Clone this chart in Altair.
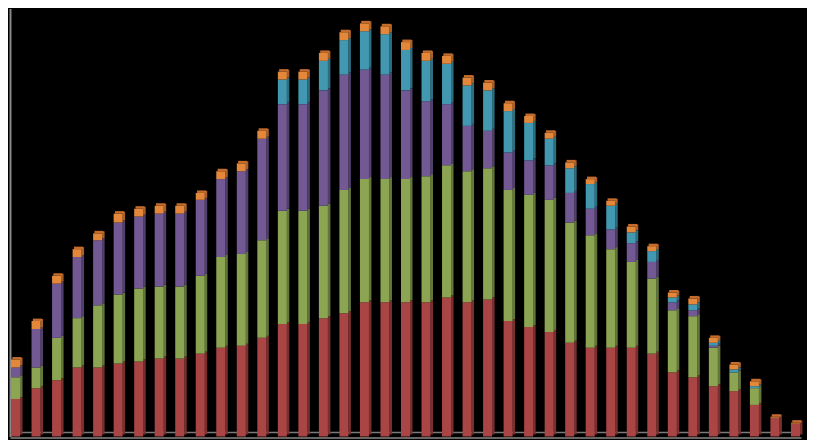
import altair as alt
import pandas as pd

categories = list(range(1, 40))
series_names = ["S1", "S2", "S3", "S4", "S5"]
red = [38, 49, 57, 70, 70, 74, 76, 79, 79, 84, 90, 92, 100, 114, 114, 120, 125, 136, 136, 136,
       136, 141, 136, 139, 117, 111, 106, 95, 90, 90, 90, 84, 65, 60, 51, 46, 32, 19, 13]
green = [22, 21, 43, 50, 63, 70, 74, 73, 73, 79, 92, 93, 99, 115, 115, 114, 125, 125, 125, 125,
         128, 134, 133, 133, 133, 134, 134, 122, 114, 100, 87, 76, 63, 62, 39, 19, 17, 0, 0]
purple = [10, 39, 55, 62, 66, 73, 73, 74, 74, 77, 79, 84, 103, 108, 108, 117, 117, 111, 106, 90,
          76, 62, 46, 38, 38, 35, 35, 30, 27, 20, 19, 17, 8, 6, 2, 0, 0, 0, 0]
teal = [0, 0, 0, 0, 0, 0, 0, 0, 0, 0, 0, 0, 0, 25, 25, 30, 35, 39, 41, 41,
        41, 41, 41, 41, 42, 38, 27, 25, 25, 24, 11, 11, 5, 6, 3, 3, 2, 0, 0]
orange = [8, 8, 8, 8, 7, 9, 8, 8, 8, 7, 8, 8, 8, 8, 8, 8, 8, 8, 8, 8,
          8, 8, 8, 8, 8, 7, 6, 6, 5, 5, 6, 5, 5, 6, 5, 5, 5, 1, 1]

front_colors = ["#AA4545", "#8CA552", "#735994", "#4298B0", "#E3873A"]
side_colors = ["#7A2F2F", "#63773A", "#51406B", "#2D6E80", "#A8602A"]

rows = []
for i, c in enumerate(categories):
    base = 0
    for name, vals in zip(series_names, [red, green, purple, teal, orange]):
        v = vals[i]
        rows.append({"cat": c, "series": name, "y0": base, "y1": base + v})
        base += v
df = pd.DataFrame(rows)
tops = pd.DataFrame({"cat": categories,
                     "total": [r + g + p + t + o for r, g, p, t, o in zip(red, green, purple, teal, orange)]})
floor = pd.DataFrame({"v": [0]})

xscale = alt.Scale(paddingInner=0.56, paddingOuter=0.05)
yscale = alt.Scale(domain=[0, 434], nice=False)

x_enc = alt.X("cat:O", scale=xscale,
              axis=alt.Axis(labels=False, ticks=False, title=None, domainColor="#8a8a8a",
                            domainWidth=1.5, offset=1))
y_enc = alt.Y("y1:Q", scale=yscale,
              axis=alt.Axis(labels=False, ticks=False, grid=False, title=None,
                            domainColor="#8a8a8a", domainWidth=2))

back_floor = alt.Chart(floor).mark_rule(color="#7a7a7a", strokeWidth=1.5, yOffset=-4).encode(
    y=alt.Y("v:Q", scale=yscale)
)

side = alt.Chart(df).mark_bar(width=2.5, xOffset=5.75, yOffset=-2, y2Offset=-2).encode(
    x=x_enc,
    y=y_enc,
    y2="y0:Q",
    color=alt.Color("series:N", scale=alt.Scale(domain=series_names, range=side_colors), legend=None),
)

front = alt.Chart(df).mark_bar().encode(
    x=x_enc,
    y=y_enc,
    y2="y0:Q",
    color=alt.Color("series:N", scale=alt.Scale(domain=series_names, range=front_colors), legend=None),
)

top = alt.Chart(tops).mark_bar(width=9, xOffset=1.3, yOffset=-2.5, color="#C56C2C").encode(
    x=x_enc,
    y=alt.Y("total:Q", scale=yscale),
    y2="total:Q",
)

chart = alt.layer(back_floor, side, front, top).resolve_scale(color="independent").properties(
    width=793,
    height=429,
    padding={"left": 2, "top": 0, "right": 6, "bottom": 3},
    autosize=alt.AutoSizeParams(type="none"),
    background="#000000",
).configure_view(stroke=None)

chart.save("out.html", embed_options={"renderer": "svg", "actions": False})
